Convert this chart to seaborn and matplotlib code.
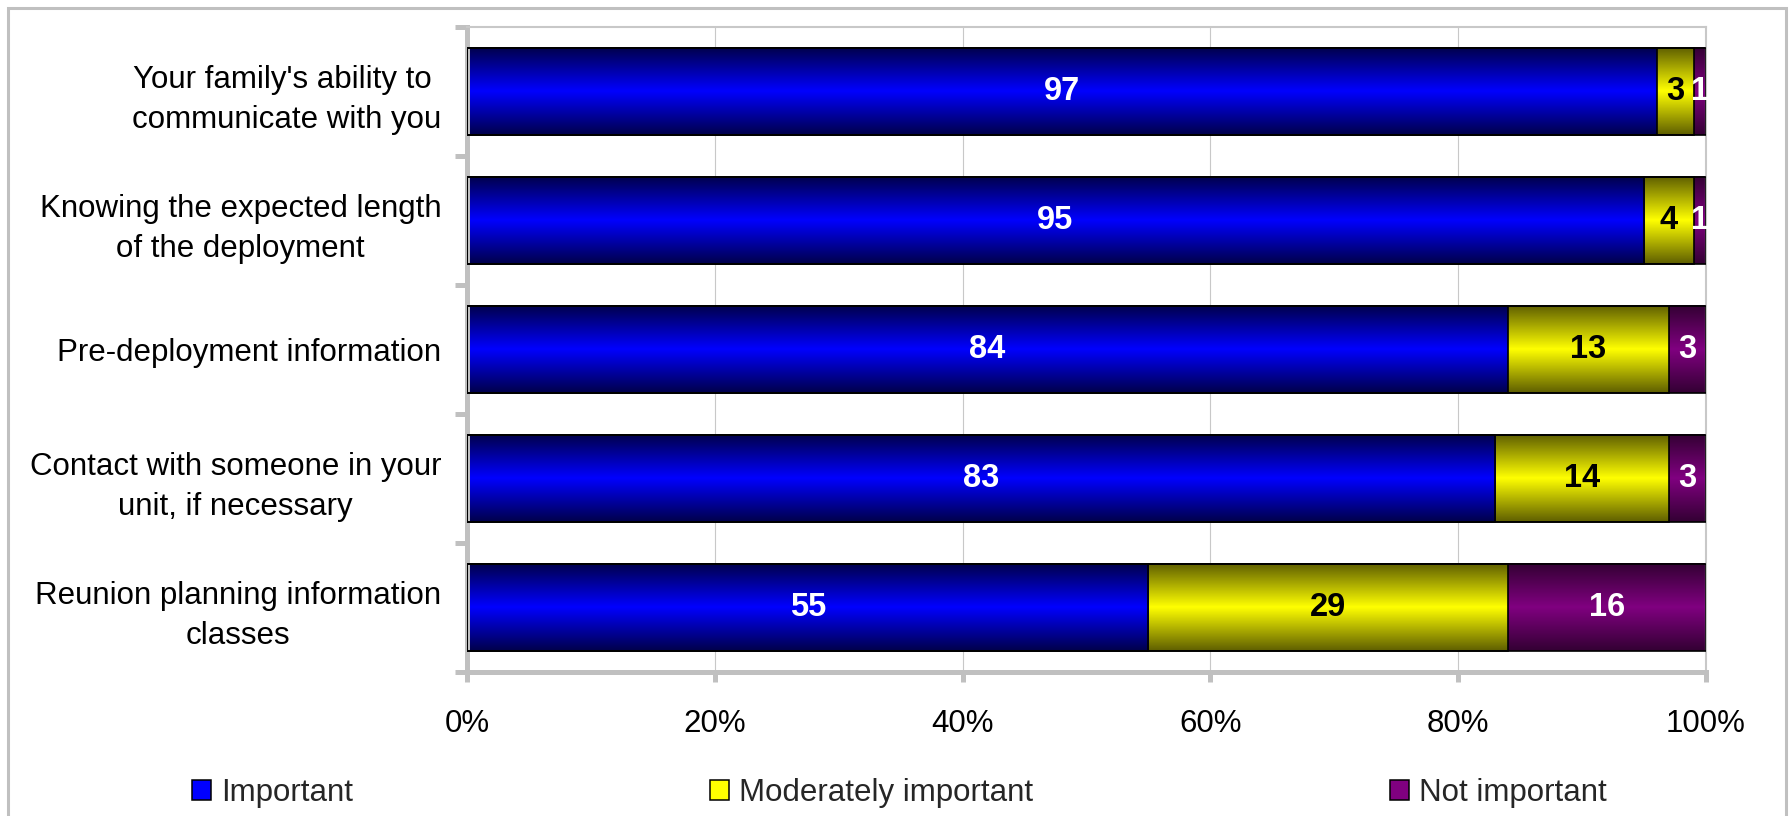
import numpy as np
import pandas as pd
import matplotlib
matplotlib.use("Agg")
import matplotlib.pyplot as plt
import seaborn as sns
from matplotlib.patches import Rectangle, Patch
from matplotlib.colors import LinearSegmentedColormap

# ---- data ----
categories = [
    "Your family's ability to \ncommunicate with you",
    "Knowing the expected length\nof the deployment",
    "Pre-deployment information",
    "Contact with someone in your\nunit, if necessary",
    "Reunion planning information\nclasses",
]
important = [97, 95, 84, 83, 55]
moderately = [3, 4, 13, 14, 29]
not_important = [1, 1, 3, 3, 16]
series_names = ["Important", "Moderately important", "Not important"]
x_ticks = [0, 20, 40, 60, 80, 100]
x_ticklabels = ["0%", "20%", "40%", "60%", "80%", "100%"]

# ---- style ----
sns.set_theme(style="white")
plt.rcParams["font.family"] = ["Liberation Sans", "DejaVu Sans"]

bright = ["#0000ff", "#ffff00", "#800080"]
dark = ["#00004a", "#5e5e00", "#330033"]
txt_colors = ["white", "black", "white"]
GRAY = "#c0c0c0"
FS = 22.5

raw = np.array([important, moderately, not_important], dtype=float)
pct = raw / raw.sum(axis=0) * 100.0
cum = np.cumsum(pct, axis=0)
df = pd.DataFrame({"cat": categories,
                   "c1": cum[0], "c2": cum[1], "c3": cum[2]})

fig = plt.figure(figsize=(17.89, 8.16), dpi=100)
ax = fig.add_axes([0.2610, 0.1765, 0.6926, 0.7905])

groups = []
for col, k in [("c3", 2), ("c2", 1), ("c1", 0)]:
    n0 = len(ax.patches)
    sns.barplot(data=df, x=col, y="cat", orient="h", color=bright[k],
                saturation=1, width=0.675, edgecolor="black", linewidth=1.2,
                ax=ax)
    groups.append((k, ax.patches[n0:]))

# gradient fills drawn over each bar, outlines kept on top
s = np.linspace(0, 1, 256).reshape(-1, 1)
for z, (k, patches) in enumerate(groups):
    cmap = LinearSegmentedColormap.from_list(
        f"g{k}", [(0, dark[k]), (0.5, bright[k]), (1, dark[k])])
    for p in patches:
        x0, y0, w, h = p.get_x(), p.get_y(), p.get_width(), p.get_height()
        ax.imshow(s, cmap=cmap, extent=(x0, x0 + w, y0 + h, y0),
                  aspect="auto", interpolation="bilinear", zorder=2 + 0.1 * z)
        p.set_facecolor("none")
        p.set_zorder(5)

# value labels
for k in range(3):
    start = cum[k] - pct[k]
    for i in range(len(categories)):
        ax.text(start[i] + pct[k][i] / 2, i, f"{int(raw[k][i])}",
                ha="center", va="center", fontsize=23.5, fontweight="bold",
                color=txt_colors[k], zorder=6)

ax.set_xlim(0, 100)
ax.set_ylim(len(categories) - 0.5, -0.5)
ax.set_xlabel("")
ax.set_ylabel("")
ax.set_xticks(x_ticks)
ax.set_xticklabels(x_ticklabels)
ax.set_yticks(range(len(categories)))
ax.set_yticklabels(categories)
for t in ax.get_yticklabels():
    t.set_multialignment("center")
    t.set_linespacing(1.42)
ax.set_yticks(np.arange(-0.5, len(categories), 1.0), minor=True)

ax.tick_params(axis="x", which="major", length=7.5, width=3.6, color=GRAY,
               pad=19, labelsize=FS, labelcolor="black", direction="out",
               bottom=True)
ax.tick_params(axis="y", which="major", length=0, pad=18.5, labelsize=FS,
               labelcolor="black")
ax.tick_params(axis="y", which="minor", length=8.6, width=3.6, color=GRAY,
               direction="out", left=True)

ax.xaxis.grid(True, color="#c8c8c8", linewidth=0.8)
ax.yaxis.grid(False)
ax.set_axisbelow(True)

for side in ["left", "bottom"]:
    ax.spines[side].set_color(GRAY)
    ax.spines[side].set_linewidth(3.6)
for side in ["top", "right"]:
    ax.spines[side].set_color("#c8c8c8")
    ax.spines[side].set_linewidth(1.5)

# figure frame
fig.patches.append(Rectangle((8 / 1789, -0.1), (1786 - 8) / 1789,
                             1.1 - 8 / 816, transform=fig.transFigure,
                             fill=False, edgecolor=GRAY, linewidth=2.2))

handles = [Patch(facecolor=bright[k], edgecolor="black", linewidth=1.1)
           for k in range(3)]
fig.legend(handles, series_names, ncol=3, loc="center",
           bbox_to_anchor=(0.1073, 0.0282, 0.791, 0), mode="expand",
           frameon=False, fontsize=FS, handlelength=0.62, handleheight=0.62,
           handletextpad=0.32, borderaxespad=0, borderpad=0)

fig.savefig("out.png", dpi=100)
